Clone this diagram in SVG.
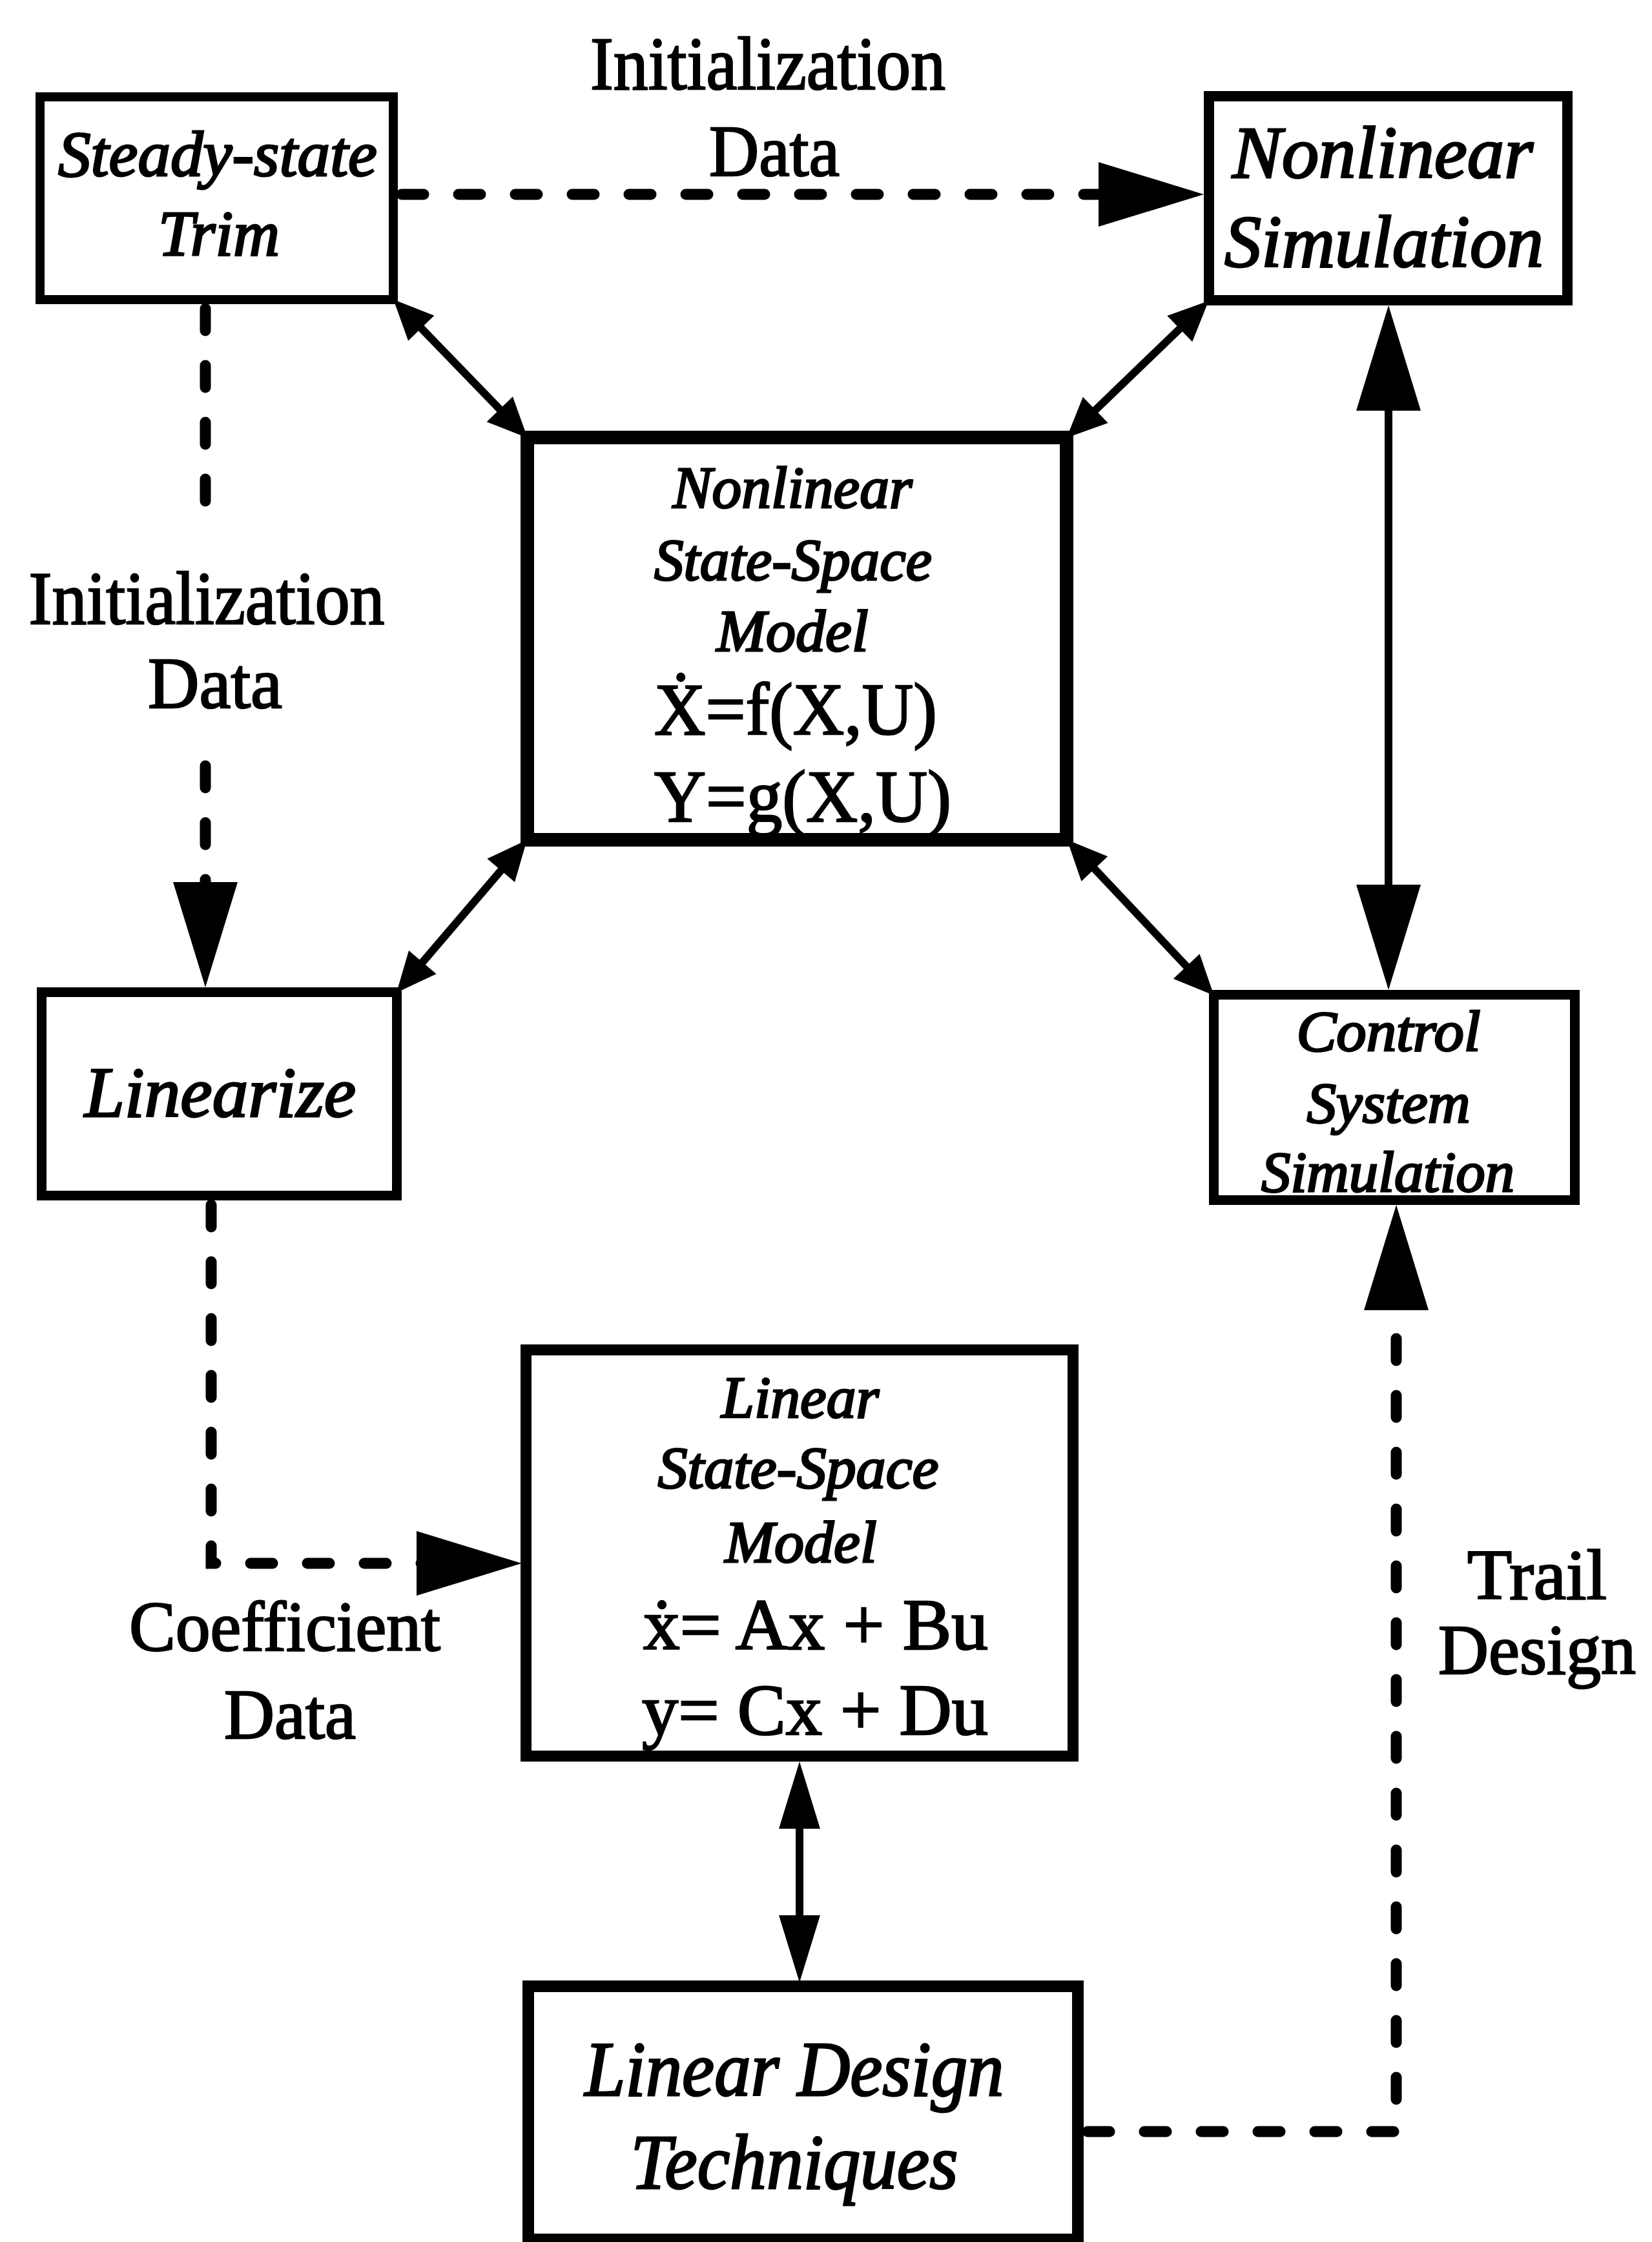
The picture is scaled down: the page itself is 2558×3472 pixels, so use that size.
<svg xmlns="http://www.w3.org/2000/svg" width="2558" height="3472" viewBox="0 0 2558 3472">
<style>
.box{fill:#fff;stroke:#000}
.it{font-family:"Liberation Serif","Times New Roman",serif;font-style:italic;fill:#000;text-anchor:middle;stroke:#000;stroke-width:3}
.rm{font-family:"Liberation Serif","Times New Roman",serif;fill:#000;text-anchor:middle;stroke:#000;stroke-width:2.5}
.solid{fill:none;stroke:#000;stroke-width:12}
.dash{fill:none;stroke:#000;stroke-width:17;stroke-dasharray:34 54;stroke-linecap:round}
</style>
<defs>
<marker id="aS" markerUnits="userSpaceOnUse" orient="auto-start-reverse" refX="42" refY="0" markerWidth="70" markerHeight="70" overflow="visible"><path d="M0,-28 L62,0 L0,28 z" fill="#000"/></marker>
<marker id="aM" markerUnits="userSpaceOnUse" orient="auto-start-reverse" refX="84" refY="0" markerWidth="110" markerHeight="70" overflow="visible"><path d="M0,-32 L104,0 L0,32 z" fill="#000"/></marker>
<marker id="aB" markerUnits="userSpaceOnUse" orient="auto-start-reverse" refX="133" refY="0" markerWidth="170" markerHeight="110" overflow="visible"><path d="M0,-50 L163,0 L0,50 z" fill="#000"/></marker>
</defs>
<rect width="2558" height="3472" fill="#fff"/>
<g id="connectors">
<path class="dash" d="M622,301 H1834" marker-end="url(#aB)"/>
<path class="dash" d="M318,478 V826"/>
<path class="dash" d="M318,1186 V1499" marker-end="url(#aB)"/>
<path class="dash" d="M327,1866 V2421 H778" marker-end="url(#aB)"/>
<path class="dash" d="M1684,3301 H2162 V1896" marker-end="url(#aB)"/>
<path class="solid" d="M623,478 L803,664" marker-start="url(#aS)" marker-end="url(#aS)"/>
<path class="solid" d="M1857,480 L1666,664" marker-start="url(#aS)" marker-end="url(#aS)"/>
<path class="solid" d="M803,1316 L627,1522" marker-start="url(#aS)" marker-end="url(#aS)"/>
<path class="solid" d="M1666,1315 L1866,1527" marker-start="url(#aS)" marker-end="url(#aS)"/>
<path class="solid" d="M2150,503 V1503" marker-start="url(#aB)" marker-end="url(#aB)"/>
<path class="solid" d="M1238,2748 V3050" marker-start="url(#aM)" marker-end="url(#aM)"/>
</g>
<g id="label-init-top">
<text class="rm" x="1189" y="138" font-size="116" textLength="550" lengthAdjust="spacingAndGlyphs">Initialization</text>
<text class="rm" x="1199" y="272" font-size="112" textLength="202" lengthAdjust="spacingAndGlyphs">Data</text>
</g>
<g id="label-init-left">
<text class="rm" x="320" y="966" font-size="116" textLength="551" lengthAdjust="spacingAndGlyphs">Initialization</text>
<text class="rm" x="333" y="1096" font-size="112" textLength="208" lengthAdjust="spacingAndGlyphs">Data</text>
</g>
<g id="label-coef">
<text class="rm" x="441" y="2556" font-size="110" textLength="482" lengthAdjust="spacingAndGlyphs">Coefficient</text>
<text class="rm" x="449" y="2692" font-size="110" textLength="204" lengthAdjust="spacingAndGlyphs">Data</text>
</g>
<g id="label-trail">
<text class="rm" x="2380" y="2476" font-size="110" textLength="216" lengthAdjust="spacingAndGlyphs">Trail</text>
<text class="rm" x="2380" y="2592" font-size="110" textLength="306" lengthAdjust="spacingAndGlyphs">Design</text>
</g>
<g id="steady-state-trim">
<rect class="box" x="62" y="150" width="547" height="314" stroke-width="14"/>
<text class="it" x="337" y="272" font-size="100" textLength="494" lengthAdjust="spacingAndGlyphs">Steady-state</text>
<text class="it" x="339" y="395" font-size="100" textLength="188" lengthAdjust="spacingAndGlyphs">Trim</text>
</g>
<g id="nonlinear-simulation">
<rect class="box" x="1872" y="149" width="555" height="316" stroke-width="16"/>
<text class="it" x="2141" y="275" font-size="115" textLength="466" lengthAdjust="spacingAndGlyphs">Nonlinear</text>
<text class="it" x="2143" y="413" font-size="115" textLength="494" lengthAdjust="spacingAndGlyphs">Simulation</text>
</g>
<g id="nonlinear-state-space-model">
<rect class="box" x="816.5" y="677.5" width="835" height="623" stroke-width="21"/>
<text class="it" x="1227" y="786" font-size="91" textLength="371" lengthAdjust="spacingAndGlyphs">Nonlinear</text>
<text class="it" x="1228" y="898" font-size="91" textLength="430" lengthAdjust="spacingAndGlyphs">State-Space</text>
<text class="it" x="1227" y="1008" font-size="91" textLength="235" lengthAdjust="spacingAndGlyphs">Model</text>
<text class="rm" x="1232" y="1137" font-size="115" textLength="438" lengthAdjust="spacingAndGlyphs">Ẋ=f(X,U)</text>
<text class="rm" x="1243" y="1272" font-size="115" textLength="460" lengthAdjust="spacingAndGlyphs">Y=g(X,U)</text>
</g>
<g id="linearize">
<rect class="box" x="64.5" y="1536.5" width="550" height="315" stroke-width="15"/>
<text class="it" x="341" y="1729" font-size="110" textLength="420" lengthAdjust="spacingAndGlyphs">Linearize</text>
</g>
<g id="control-system-simulation">
<rect class="box" x="1879.5" y="1540.5" width="559" height="318" stroke-width="15"/>
<text class="it" x="2150" y="1627" font-size="88" textLength="285" lengthAdjust="spacingAndGlyphs">Control</text>
<text class="it" x="2150" y="1738" font-size="88" textLength="253" lengthAdjust="spacingAndGlyphs">System</text>
<text class="it" x="2149" y="1845" font-size="88" textLength="392" lengthAdjust="spacingAndGlyphs">Simulation</text>
</g>
<g id="linear-state-space-model">
<rect class="box" x="814.5" y="2090.5" width="847" height="629" stroke-width="17"/>
<text class="it" x="1239" y="2195" font-size="91" textLength="244" lengthAdjust="spacingAndGlyphs">Linear</text>
<text class="it" x="1236" y="2304" font-size="91" textLength="435" lengthAdjust="spacingAndGlyphs">State-Space</text>
<text class="it" x="1240" y="2419" font-size="91" textLength="235" lengthAdjust="spacingAndGlyphs">Model</text>
<text class="rm" x="1263" y="2554" font-size="112" textLength="534" lengthAdjust="spacingAndGlyphs">ẋ= Ax + Bu</text>
<text class="rm" x="1262" y="2686" font-size="112" textLength="536" lengthAdjust="spacingAndGlyphs">y= Cx + Du</text>
</g>
<g id="linear-design-techniques">
<rect class="box" x="818" y="3076" width="851" height="392" stroke-width="18"/>
<text class="it" x="1230" y="3245" font-size="120" textLength="649" lengthAdjust="spacingAndGlyphs">Linear Design</text>
<text class="it" x="1230" y="3389" font-size="120" textLength="507" lengthAdjust="spacingAndGlyphs">Techniques</text>
</g>
</svg>
